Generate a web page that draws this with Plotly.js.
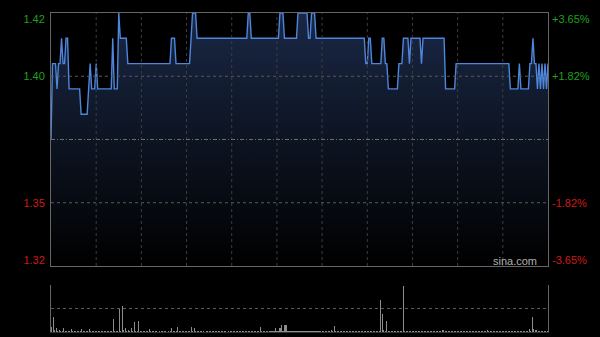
<!DOCTYPE html>
<html>
<head>
<meta charset="utf-8">
<script src="https://cdn.plot.ly/plotly-3.0.1.min.js"></script>
<style>html,body{margin:0;padding:0;background:#000;}#chart{width:600px;height:337px;}</style>
</head>
<body>
<div id="chart"></div>
<script>
// minute index (0 = 09:30 ... 330 = 16:00, lunch break removed)
const prevClose = 1.375;
const priceRange = [1.325, 1.425];
const prices = [
1.375,1.405,1.405,1.405,1.395,1.405,1.405,1.415,1.405,1.405,
1.415,1.415,1.395,1.395,1.395,1.395,1.395,1.395,1.395,1.395,
1.385,1.385,1.385,1.385,1.385,1.395,1.405,1.395,1.395,1.395,
1.405,1.395,1.395,1.395,1.395,1.395,1.395,1.395,1.395,1.395,
1.395,1.415,1.395,1.395,1.395,1.425,1.415,1.415,1.415,1.415,
1.415,1.405,1.405,1.405,1.405,1.405,1.405,1.405,1.405,1.405,
1.405,1.405,1.405,1.405,1.405,1.405,1.405,1.405,1.405,1.405,
1.405,1.405,1.405,1.405,1.405,1.405,1.405,1.405,1.405,1.405,
1.415,1.415,1.415,1.405,1.405,1.405,1.405,1.405,1.405,1.405,
1.405,1.405,1.405,1.415,1.425,1.425,1.425,1.415,1.415,1.415,
1.415,1.415,1.415,1.415,1.415,1.415,1.415,1.415,1.415,1.415,
1.415,1.415,1.415,1.415,1.415,1.415,1.415,1.415,1.415,1.415,
1.415,1.415,1.415,1.415,1.415,1.415,1.415,1.415,1.415,1.415,
1.415,1.425,1.425,1.415,1.415,1.415,1.415,1.415,1.415,1.415,
1.415,1.415,1.415,1.415,1.415,1.415,1.415,1.415,1.415,1.415,
1.415,1.415,1.425,1.425,1.425,1.415,1.415,1.415,1.415,1.415,
1.415,1.415,1.415,1.415,1.425,1.425,1.425,1.425,1.425,1.425,
1.425,1.415,1.415,1.425,1.425,1.425,1.415,1.415,1.415,1.415,
1.415,1.415,1.415,1.415,1.415,1.415,1.415,1.415,1.415,1.415,
1.415,1.415,1.415,1.415,1.415,1.415,1.415,1.415,1.415,1.415,
1.415,1.415,1.415,1.415,1.415,1.415,1.415,1.415,1.415,1.405,
1.405,1.415,1.415,1.405,1.405,1.405,1.405,1.405,1.405,1.405,
1.415,1.415,1.405,1.405,1.395,1.395,1.395,1.395,1.395,1.395,
1.395,1.405,1.405,1.405,1.415,1.415,1.415,1.415,1.405,1.415,
1.415,1.415,1.415,1.415,1.415,1.415,1.405,1.415,1.415,1.415,
1.415,1.415,1.415,1.415,1.415,1.415,1.415,1.415,1.415,1.415,
1.415,1.415,1.395,1.395,1.395,1.395,1.395,1.395,1.395,1.405,
1.405,1.405,1.405,1.405,1.405,1.405,1.405,1.405,1.405,1.405,
1.405,1.405,1.405,1.405,1.405,1.405,1.405,1.405,1.405,1.405,
1.405,1.405,1.405,1.405,1.405,1.405,1.405,1.405,1.405,1.405,
1.405,1.405,1.405,1.405,1.405,1.395,1.395,1.395,1.395,1.395,
1.395,1.405,1.395,1.395,1.395,1.395,1.395,1.395,1.405,1.405,
1.415,1.405,1.405,1.395,1.405,1.395,1.405,1.395,1.405,1.395,
1.405
];
const volumes = [
100,300,40,80,30,40,20,30,80,30,
20,30,20,70,30,20,20,30,20,20,
60,20,20,30,20,70,30,20,20,20,
30,20,20,30,20,20,20,20,20,30,
20,270,30,20,30,460,20,520,40,80,
30,40,30,80,30,200,30,20,220,30,
20,20,30,20,20,60,20,20,20,20,
20,10,20,20,20,20,20,10,20,20,
80,20,30,20,100,30,20,20,20,20,
20,20,20,100,30,90,20,20,20,20,
20,20,10,20,20,20,20,20,20,20,
20,20,20,20,20,20,20,10,20,20,
20,20,20,20,20,20,20,20,20,20,
20,20,20,20,20,20,20,20,30,110,
20,20,20,20,20,20,20,20,30,80,
20,20,90,140,20,150,150,30,20,20,
20,20,20,20,20,20,20,20,20,20,
20,20,20,20,20,20,20,20,20,20,
20,20,20,20,20,20,50,20,130,20,
20,20,20,20,20,20,20,20,20,20,
20,20,20,20,20,20,20,20,20,20,
20,20,20,20,20,20,20,20,30,650,
370,40,30,220,30,20,20,20,20,20,
20,20,20,20,920,20,20,20,20,20,
20,20,20,20,20,20,20,20,20,20,
20,20,20,20,20,20,20,20,20,20,
50,40,20,20,20,20,20,20,20,20,
20,20,20,20,20,20,20,20,20,20,
20,20,20,20,20,20,20,20,20,20,
40,20,20,20,20,20,20,20,20,20,
20,20,20,20,20,20,20,20,20,20,
20,20,20,20,20,20,20,30,60,30,
300,60,40,50,20,20,20,20,20,20,
20
];
const priceTickVals = [1.4226, 1.40, 1.35, 1.3274];
const priceTickText = ['1.42', '1.40', '1.35', '1.32'];
const pctTickText = ['+3.65%', '+1.82%', '-1.82%', '-3.65%'];
const tickColors = ['#1fa01f', '#1fa01f', '#d01818', '#d01818'];
const gridMinutes = [30,60,90,120,150,180,210,240,270,300];
const priceGridLines = [1.40, 1.35];
const volumeMax = 940;

const minutes = prices.map((_, i) => i);
const colored = (arr) => arr.map((t, i) => '<span style="color:' + tickColors[i] + '">' + t + '</span>');

const traces = [
  {
    x: minutes, y: prices, type: 'scatter', mode: 'none',
    fill: 'tozeroy',
    fillgradient: {type: 'vertical', start: priceRange[0], stop: priceRange[1],
      colorscale: [[0, 'rgb(0,0,0)'], [0.5, 'rgb(13,20,34)'], [1, 'rgb(26,40,70)']]},
    xaxis: 'x', yaxis: 'y', hoverinfo: 'skip'
  },
  {
    x: minutes, y: prices, type: 'scatter', mode: 'lines',
    line: {color: '#4d86dc', width: 1.4},
    cliponaxis: false,
    xaxis: 'x', yaxis: 'y', hoverinfo: 'skip'
  },
  {
    x: minutes, y: prices, type: 'scatter', mode: 'lines',
    line: {color: 'rgba(0,0,0,0)', width: 0},
    xaxis: 'x', yaxis: 'y2', hoverinfo: 'skip'
  },
  {
    x: minutes, y: volumes, type: 'bar',
    marker: {color: '#8c8c8c', line: {width: 0}},
    width: 0.7,
    xaxis: 'x2', yaxis: 'y3', hoverinfo: 'skip'
  }
];

const shapes = gridMinutes.map(m => ({
  type: 'line', xref: 'x', yref: 'y', x0: m, x1: m, y0: priceRange[0], y1: priceRange[1],
  line: {color: '#3e3e3e', width: 1, dash: 'dot'}, layer: 'above'
}));
priceGridLines.forEach(v => shapes.push({
  type: 'line', xref: 'x', yref: 'y', x0: 0, x1: 330, y0: v, y1: v,
  line: {color: '#5a5a5a', width: 1, dash: 'dot'}, layer: 'above'
}));
shapes.push({
  type: 'line', xref: 'x', yref: 'y', x0: 0, x1: 330, y0: prevClose, y1: prevClose,
  line: {color: '#707070', width: 1, dash: '4px,2px,1px,2px'}, layer: 'above'
});

const font = {family: 'Liberation Sans, Arial, sans-serif', size: 11};

const layout = {
  width: 600, height: 337,
  paper_bgcolor: '#000', plot_bgcolor: '#000',
  margin: {l: 51, r: 52, t: 13, b: 5},
  showlegend: false,
  font: font,
  bargap: 0,
  xaxis: {
    domain: [0, 1], range: [0, 330], anchor: 'y',
    showticklabels: false, ticks: '', showgrid: false,
    showline: true, linecolor: '#666', linewidth: 1, mirror: true, zeroline: false
  },
  yaxis: {
    domain: [0.207, 1], range: priceRange, anchor: 'x',
    tickvals: priceTickVals, ticktext: colored(priceTickText),
    showgrid: false, ticks: '', zeroline: false,
    showline: true, linecolor: '#666', linewidth: 1, mirror: true,
    tickfont: {family: font.family, size: 11}, ticklabelstandoff: 3
  },
  yaxis2: {
    overlaying: 'y', side: 'right', range: priceRange, anchor: 'x',
    tickvals: priceTickVals, ticktext: colored(pctTickText),
    showgrid: false, ticks: '', zeroline: false, showline: false,
    tickfont: {family: font.family, size: 11}, ticklabelstandoff: 3
  },
  xaxis2: {
    domain: [0, 1], range: [-0.5, 330.5], anchor: 'y3',
    showticklabels: false, ticks: '', showgrid: false, zeroline: false,
    showline: true, linecolor: '#333', linewidth: 1
  },
  yaxis3: {
    domain: [0, 0.1473], range: [0, volumeMax], anchor: 'x2',
    tickvals: [volumeMax / 2, volumeMax], showticklabels: false, ticks: '',
    showgrid: true, gridcolor: '#5a5a5a', griddash: 'dot', gridwidth: 1,
    showline: true, linecolor: '#666', linewidth: 1, mirror: true, zeroline: false
  },
  shapes: shapes,
  annotations: [{
    text: 'sina.com', xref: 'paper', yref: 'paper', x: 0.982, y: 0.196,
    xanchor: 'right', yanchor: 'bottom', showarrow: false,
    font: {family: font.family, size: 11, color: '#b0b0b0'}
  }]
};

Plotly.newPlot('chart', traces, layout, {displayModeBar: false, staticPlot: true});
</script>
</body>
</html>
